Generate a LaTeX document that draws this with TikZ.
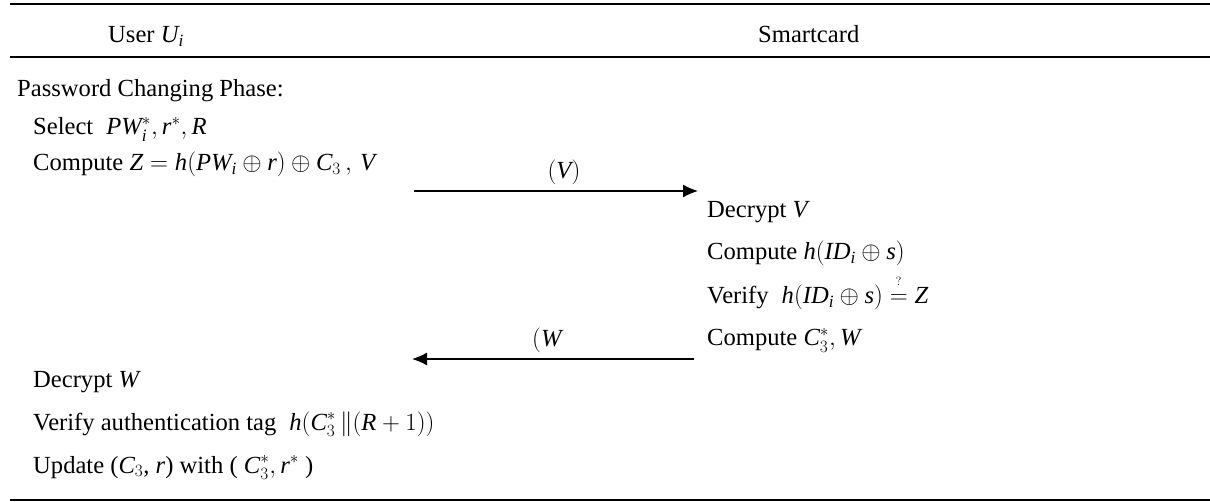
\documentclass[tikz,border=0pt]{standalone}
\usepackage{amsmath}
\usepackage{fontspec}
\setmainfont{Liberation Serif}
\usetikzlibrary{arrows.meta}
\newcommand{\vi}[1]{\textit{#1}}
\newcommand{\qeq}{\mathrel{\overset{\smash{\raisebox{5pt}{$\scriptscriptstyle ?$}}}{=}}}
\begin{document}
\begin{tikzpicture}[x=1pt,y=-1pt,
  every node/.style={inner sep=0pt, anchor=base west, font=\fontsize{24.6}{29}\selectfont},
  rule/.style={line width=2pt},
  msg/.style={line width=1.3pt, -{Latex[length=15pt,width=13pt]}}]
\useasboundingbox (0,0) rectangle (1210,502);
% rules
\coordinate (t1) at (10,4);   \coordinate (t2) at (1210,4);
\coordinate (m1) at (10,57);  \coordinate (m2) at (1210,57);
\coordinate (b1) at (10,500); \coordinate (b2) at (1210,500);
\draw[rule] (t1) -- (t2);
\draw[rule] (m1) -- (m2);
\draw[rule] (b1) -- (b2);
% headers
\node (hu) at (108,43) {User $\vi{U}_{\vi{i}}$};
\node (hs) at (758,43) {Smartcard};
% user column
\node (p0) at (17,97) {Password Changing Phase:};
\node (p1) at (33,135) {Select $\;\vi{PW}_{\vi{i}}^{*},\vi{r}^{*},\vi{R}$};
\node (p2) at (33,171) {Compute $\vi{Z}=\vi{h}(\vi{PW}_{\vi{i}}\oplus \vi{r})\oplus \vi{C}_{3}\,,\,\vi{V}$};
% message 1
\coordinate (a1s) at (414,191); \coordinate (a1e) at (698,191);
\draw[msg] (a1s) -- (a1e);
\node[anchor=base] (lv) at (564,179) {$(\vi{V})$};
% smartcard column
\node (s1) at (707,218) {Decrypt $\vi{V}$};
\node (s2) at (707,260) {Compute $\vi{h}(\vi{ID}_{\vi{i}}\oplus \vi{s})$};
\node (s3) at (707,304) {Verify $\;\vi{h}(\vi{ID}_{\vi{i}}\oplus \vi{s})\qeq\vi{Z}$};
\node (s4) at (707,346) {Compute $\vi{C}_{3}^{*},\vi{W}$};
% message 2
\coordinate (a2s) at (694,359); \coordinate (a2e) at (412,359);
\draw[msg] (a2s) -- (a2e);
\node (lw) at (532,347) {$(\vi{W}$};
% user column again
\node (u1) at (33,388) {Decrypt $\vi{W}$};
\node (u2) at (33,430) {Verify authentication tag $\;\vi{h}(\vi{C}_{3}^{*}\,\|(\vi{R}+1))$};
\node (u3) at (33,473) {Update ($\vi{C}_{3}$, $\vi{r}$) with ( $\vi{C}_{3}^{*},\vi{r}^{*}$ )};
\end{tikzpicture}
\end{document}
